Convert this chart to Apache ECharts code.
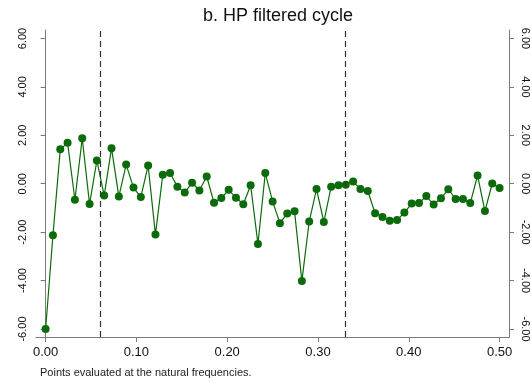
<!DOCTYPE html>
<html>
<head>
<meta charset="utf-8">
<script src="https://cdn.jsdelivr.net/npm/echarts@6/dist/echarts.min.js"></script>
<style>html,body{margin:0;padding:0;background:#fff}#c{width:531px;height:383px}</style>
</head>
<body>
<div id="c"></div>
<script>
// Natural frequencies k/124, k = 0..62
const nObs = 124;
const cycleValues = [
  -6.00, -2.13, 1.42, 1.69, -0.66, 1.88, -0.84, 0.96, -0.49, 1.47,
  -0.53, 0.79, -0.16, -0.55, 0.75, -2.10, 0.37, 0.44, -0.12, -0.36,
  0.04, -0.28, 0.30, -0.78, -0.59, -0.25, -0.58, -0.85, -0.06, -2.49,
  0.44, -0.73, -1.63, -1.23, -1.14, -4.02, -1.56, -0.22, -1.58, -0.12,
  -0.06, -0.04, 0.09, -0.22, -0.30, -1.22, -1.37, -1.53, -1.50, -1.19,
  -0.82, -0.80, -0.51, -0.86, -0.60, -0.23, -0.63, -0.63, -0.80, 0.34,
  -1.13, 0.01, -0.18
];
const xTickValues = [0, 0.1, 0.2, 0.3, 0.4, 0.5];
const yTickValues = [-6, -4, -2, 0, 2, 4, 6];
const bandLines = [1/16, 1/3];
const titleText = 'b. HP filtered cycle';
const noteText = 'Points evaluated at the natural frequencies.';

const seriesData = cycleValues.map((v, k) => [k / nObs, v]);

const axisGray = '#7a7a7a';
const green = '#0b6b0b';
const fontFam = '"Liberation Sans", Arial, Helvetica, sans-serif';

function yAxisDef(pos) {
  return {
    type: 'value', position: pos, min: -6.33, max: 6.35,
    axisLine: {show: true, lineStyle: {color: axisGray, width: 1}},
    axisTick: {show: true, length: 5, customValues: yTickValues, lineStyle: {color: axisGray}},
    splitLine: {show: false},
    axisLabel: {
      customValues: yTickValues, rotate: pos === 'left' ? 90 : -90,
      margin: pos === 'left' ? 8 : 11, color: '#111', fontSize: 11, fontFamily: fontFam,
      formatter: v => v.toFixed(2)
    }
  };
}

const chart = echarts.init(document.getElementById('c'), null, {renderer: 'canvas'});
chart.setOption({
  animation: false,
  backgroundColor: '#fff',
  title: {
    text: titleText, left: 273, textAlign: 'center', top: 2,
    textStyle: {fontSize: 18, fontWeight: 'normal', color: '#111', fontFamily: fontFam}
  },
  graphic: [{
    type: 'text', left: 40, top: 367,
    style: {text: noteText, fontSize: 11, fill: '#222', fontFamily: fontFam}
  }],
  grid: {left: 36, right: 20, top: 30, bottom: 46, containLabel: false},
  xAxis: {
    type: 'value', min: -0.0106, max: 0.5104,
    axisLine: {show: true, onZero: false, lineStyle: {color: axisGray, width: 1}},
    axisTick: {show: true, length: 5, customValues: xTickValues, lineStyle: {color: axisGray}},
    splitLine: {show: false},
    axisLabel: {
      customValues: xTickValues, margin: 9, color: '#111', fontSize: 13, fontFamily: fontFam,
      formatter: v => v.toFixed(2)
    }
  },
  yAxis: [yAxisDef('left'), yAxisDef('right')],
  series: [{
    type: 'line', data: seriesData, yAxisIndex: 0,
    symbol: 'circle', symbolSize: 8,
    lineStyle: {color: green, width: 1.2},
    itemStyle: {color: green},
    markLine: {
      silent: true, symbol: ['none', 'none'], label: {show: false},
      lineStyle: {color: '#333', type: [6, 4], width: 1.2},
      data: bandLines.map(x => ({xAxis: x}))
    }
  }]
});
</script>
</body>
</html>
